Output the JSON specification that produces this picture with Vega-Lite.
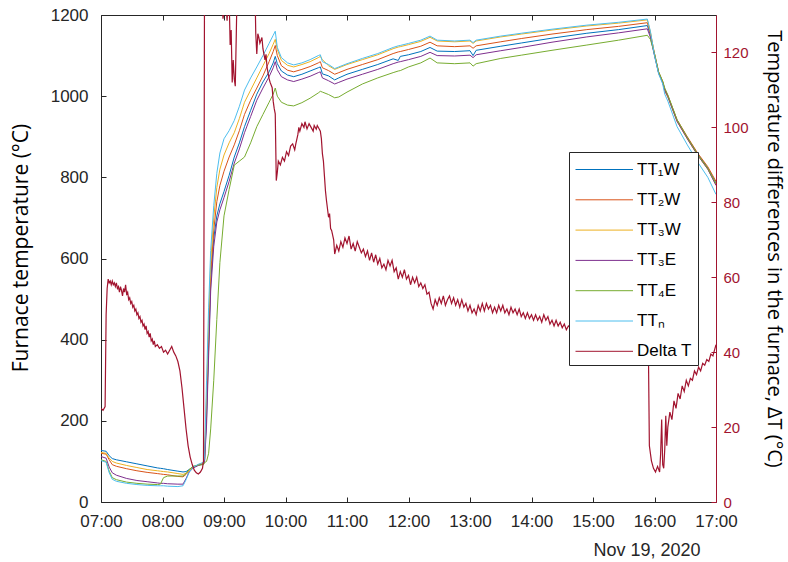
{
  "$schema": "https://vega.github.io/schema/vega-lite/v6.json",
  "width": 615,
  "height": 487,
  "autosize": {"type": "none"},
  "padding": {"left": 101, "top": 15, "right": 72, "bottom": 60},
  "background": "white",
  "config": {
    "view": {"stroke": null},
    "axis": {
      "grid": false,
      "labelFont": "Liberation Sans",
      "labelFontSize": 17,
      "labelColor": "#262626",
      "domainColor": "#262626",
      "tickColor": "#262626",
      "titleFont": "Open Sans",
      "titleFontWeight": "normal",
      "titleFontSize": 20,
      "titleColor": "#000000"
    }
  },
  "datasets": {
    "temps": [
      {"t":"2020-11-19T07:00","TT1W":127,"TT2W":120,"TT3W":122,"TT3E":112,"TT4E":104,"TTN":102},
      {"t":"2020-11-19T07:05","TT1W":125,"TT2W":118,"TT3W":120,"TT3E":108,"TT4E":100,"TTN":98},
      {"t":"2020-11-19T07:08","TT1W":114,"TT2W":104,"TT3W":108,"TT3E":86,"TT4E":76,"TTN":72},
      {"t":"2020-11-19T07:11","TT1W":107,"TT2W":92,"TT3W":100,"TT3E":72,"TT4E":60,"TTN":56},
      {"t":"2020-11-19T07:15","TT1W":104,"TT2W":88,"TT3W":96,"TT3E":66,"TT4E":55,"TTN":51},
      {"t":"2020-11-19T07:25","TT1W":99,"TT2W":82,"TT3W":90,"TT3E":58,"TT4E":49,"TTN":46},
      {"t":"2020-11-19T07:35","TT1W":94,"TT2W":77,"TT3W":85,"TT3E":53,"TT4E":46,"TTN":43},
      {"t":"2020-11-19T07:45","TT1W":89,"TT2W":73,"TT3W":80,"TT3E":50,"TT4E":44,"TTN":41},
      {"t":"2020-11-19T07:55","TT1W":84,"TT2W":70,"TT3W":77,"TT3E":47,"TT4E":43,"TTN":40},
      {"t":"2020-11-19T07:58","TT1W":83,"TT2W":69,"TT3W":76,"TT3E":46,"TT4E":44,"TTN":40},
      {"t":"2020-11-19T08:01","TT1W":82,"TT2W":68,"TT3W":75,"TT3E":46,"TT4E":60,"TTN":40},
      {"t":"2020-11-19T08:05","TT1W":80,"TT2W":67,"TT3W":74,"TT3E":45,"TT4E":64,"TTN":39},
      {"t":"2020-11-19T08:15","TT1W":76,"TT2W":63,"TT3W":70,"TT3E":44,"TT4E":64,"TTN":38},
      {"t":"2020-11-19T08:20","TT1W":74,"TT2W":62,"TT3W":68,"TT3E":44,"TT4E":64,"TTN":40},
      {"t":"2020-11-19T08:23","TT1W":75,"TT2W":68,"TT3W":71,"TT3E":58,"TT4E":70,"TTN":55},
      {"t":"2020-11-19T08:26","TT1W":80,"TT2W":76,"TT3W":78,"TT3E":74,"TT4E":80,"TTN":73},
      {"t":"2020-11-19T08:30","TT1W":87,"TT2W":85,"TT3W":86,"TT3E":84,"TT4E":88,"TTN":86},
      {"t":"2020-11-19T08:35","TT1W":91,"TT2W":91,"TT3W":92,"TT3E":90,"TT4E":91,"TTN":93},
      {"t":"2020-11-19T08:40","TT1W":94,"TT2W":95,"TT3W":96,"TT3E":94,"TT4E":92,"TTN":98},
      {"t":"2020-11-19T08:41","TT1W":100,"TT2W":103,"TT3W":106,"TT3E":98,"TT4E":97,"TTN":110},
      {"t":"2020-11-19T08:43","TT1W":210,"TT2W":230,"TT3W":260,"TT3E":190,"TT4E":100,"TTN":300},
      {"t":"2020-11-19T08:45","TT1W":380,"TT2W":400,"TT3W":440,"TT3E":360,"TT4E":120,"TTN":480},
      {"t":"2020-11-19T08:47","TT1W":540,"TT2W":560,"TT3W":590,"TT3E":520,"TT4E":180,"TTN":620},
      {"t":"2020-11-19T08:50","TT1W":650,"TT2W":670,"TT3W":700,"TT3E":630,"TT4E":300,"TTN":730},
      {"t":"2020-11-19T08:53","TT1W":705,"TT2W":740,"TT3W":775,"TT3E":690,"TT4E":450,"TTN":810},
      {"t":"2020-11-19T08:56","TT1W":735,"TT2W":780,"TT3W":820,"TT3E":720,"TT4E":590,"TTN":860},
      {"t":"2020-11-19T09:00","TT1W":765,"TT2W":815,"TT3W":855,"TT3E":750,"TT4E":705,"TTN":895},
      {"t":"2020-11-19T09:05","TT1W":805,"TT2W":850,"TT3W":885,"TT3E":790,"TT4E":770,"TTN":915},
      {"t":"2020-11-19T09:10","TT1W":850,"TT2W":880,"TT3W":910,"TT3E":835,"TT4E":830,"TTN":940},
      {"t":"2020-11-19T09:15","TT1W":885,"TT2W":915,"TT3W":945,"TT3E":870,"TT4E":840,"TTN":975},
      {"t":"2020-11-19T09:20","TT1W":925,"TT2W":955,"TT3W":985,"TT3E":910,"TT4E":850,"TTN":1015},
      {"t":"2020-11-19T09:26","TT1W":965,"TT2W":990,"TT3W":1015,"TT3E":950,"TT4E":885,"TTN":1045},
      {"t":"2020-11-19T09:32","TT1W":1005,"TT2W":1020,"TT3W":1045,"TT3E":990,"TT4E":925,"TTN":1072},
      {"t":"2020-11-19T09:38","TT1W":1035,"TT2W":1050,"TT3W":1075,"TT3E":1020,"TT4E":955,"TTN":1100},
      {"t":"2020-11-19T09:44","TT1W":1060,"TT2W":1085,"TT3W":1105,"TT3E":1048,"TT4E":985,"TTN":1130},
      {"t":"2020-11-19T09:48","TT1W":1082,"TT2W":1110,"TT3W":1128,"TT3E":1070,"TT4E":1005,"TTN":1150},
      {"t":"2020-11-19T09:50","TT1W":1098,"TT2W":1125,"TT3W":1140,"TT3E":1085,"TT4E":1020,"TTN":1160},
      {"t":"2020-11-19T09:52","TT1W":1080,"TT2W":1100,"TT3W":1115,"TT3E":1065,"TT4E":1000,"TTN":1120},
      {"t":"2020-11-19T09:56","TT1W":1062,"TT2W":1075,"TT3W":1088,"TT3E":1048,"TT4E":985,"TTN":1095},
      {"t":"2020-11-19T10:02","TT1W":1052,"TT2W":1064,"TT3W":1076,"TT3E":1040,"TT4E":978,"TTN":1082},
      {"t":"2020-11-19T10:08","TT1W":1048,"TT2W":1060,"TT3W":1072,"TT3E":1036,"TT4E":976,"TTN":1077},
      {"t":"2020-11-19T10:16","TT1W":1054,"TT2W":1066,"TT3W":1078,"TT3E":1042,"TT4E":984,"TTN":1082},
      {"t":"2020-11-19T10:24","TT1W":1062,"TT2W":1073,"TT3W":1085,"TT3E":1049,"TT4E":995,"TTN":1090},
      {"t":"2020-11-19T10:32","TT1W":1070,"TT2W":1082,"TT3W":1095,"TT3E":1058,"TT4E":1008,"TTN":1100},
      {"t":"2020-11-19T10:34","TT1W":1072,"TT2W":1085,"TT3W":1098,"TT3E":1060,"TT4E":1012,"TTN":1102},
      {"t":"2020-11-19T10:36","TT1W":1055,"TT2W":1070,"TT3W":1090,"TT3E":1045,"TT4E":1010,"TTN":1085},
      {"t":"2020-11-19T10:42","TT1W":1050,"TT2W":1063,"TT3W":1075,"TT3E":1038,"TT4E":1004,"TTN":1078},
      {"t":"2020-11-19T10:48","TT1W":1040,"TT2W":1054,"TT3W":1066,"TT3E":1030,"TT4E":996,"TTN":1068},
      {"t":"2020-11-19T10:52","TT1W":1045,"TT2W":1058,"TT3W":1070,"TT3E":1034,"TT4E":998,"TTN":1072},
      {"t":"2020-11-19T11:00","TT1W":1054,"TT2W":1066,"TT3W":1078,"TT3E":1042,"TT4E":1010,"TTN":1080},
      {"t":"2020-11-19T11:15","TT1W":1066,"TT2W":1078,"TT3W":1090,"TT3E":1054,"TT4E":1030,"TTN":1093},
      {"t":"2020-11-19T11:30","TT1W":1078,"TT2W":1090,"TT3W":1102,"TT3E":1066,"TT4E":1045,"TTN":1105},
      {"t":"2020-11-19T11:45","TT1W":1092,"TT2W":1105,"TT3W":1117,"TT3E":1080,"TT4E":1058,"TTN":1120},
      {"t":"2020-11-19T11:50","TT1W":1088,"TT2W":1109,"TT3W":1121,"TT3E":1084,"TT4E":1062,"TTN":1124},
      {"t":"2020-11-19T11:52","TT1W":1098,"TT2W":1110,"TT3W":1122,"TT3E":1085,"TT4E":1063,"TTN":1125},
      {"t":"2020-11-19T12:00","TT1W":1102,"TT2W":1115,"TT3W":1127,"TT3E":1090,"TT4E":1072,"TTN":1130},
      {"t":"2020-11-19T12:12","TT1W":1110,"TT2W":1123,"TT3W":1135,"TT3E":1098,"TT4E":1082,"TTN":1138},
      {"t":"2020-11-19T12:21","TT1W":1120,"TT2W":1133,"TT3W":1145,"TT3E":1108,"TT4E":1094,"TTN":1148},
      {"t":"2020-11-19T12:28","TT1W":1111,"TT2W":1124,"TT3W":1136,"TT3E":1100,"TT4E":1082,"TTN":1138},
      {"t":"2020-11-19T12:45","TT1W":1110,"TT2W":1122,"TT3W":1134,"TT3E":1099,"TT4E":1080,"TTN":1136},
      {"t":"2020-11-19T13:00","TT1W":1112,"TT2W":1124,"TT3W":1136,"TT3E":1101,"TT4E":1082,"TTN":1138},
      {"t":"2020-11-19T13:03","TT1W":1100,"TT2W":1118,"TT3W":1130,"TT3E":1095,"TT4E":1074,"TTN":1132},
      {"t":"2020-11-19T13:06","TT1W":1113,"TT2W":1124,"TT3W":1136,"TT3E":1102,"TT4E":1080,"TTN":1138},
      {"t":"2020-11-19T13:30","TT1W":1123,"TT2W":1134,"TT3W":1146,"TT3E":1112,"TT4E":1093,"TTN":1148},
      {"t":"2020-11-19T13:50","TT1W":1131,"TT2W":1142,"TT3W":1153,"TT3E":1120,"TT4E":1101,"TTN":1155},
      {"t":"2020-11-19T14:20","TT1W":1143,"TT2W":1153,"TT3W":1163,"TT3E":1133,"TT4E":1113,"TTN":1165},
      {"t":"2020-11-19T14:54","TT1W":1155,"TT2W":1164,"TT3W":1173,"TT3E":1146,"TT4E":1126,"TTN":1175},
      {"t":"2020-11-19T15:25","TT1W":1164,"TT2W":1172,"TT3W":1180,"TT3E":1156,"TT4E":1138,"TTN":1182},
      {"t":"2020-11-19T15:53","TT1W":1174,"TT2W":1181,"TT3W":1188,"TT3E":1166,"TT4E":1150,"TTN":1190},
      {"t":"2020-11-19T15:56","TT1W":1150,"TT2W":1154,"TT3W":1158,"TT3E":1145,"TT4E":1140,"TTN":1160},
      {"t":"2020-11-19T16:00","TT1W":1102,"TT2W":1105,"TT3W":1103,"TT3E":1100,"TT4E":1105,"TTN":1100},
      {"t":"2020-11-19T16:04","TT1W":1058,"TT2W":1060,"TT3W":1058,"TT3E":1057,"TT4E":1060,"TTN":1055},
      {"t":"2020-11-19T16:08","TT1W":1034,"TT2W":1036,"TT3W":1035,"TT3E":1033,"TT4E":1037,"TTN":1030},
      {"t":"2020-11-19T16:10","TT1W":1015,"TT2W":1018,"TT3W":1012,"TT3E":1014,"TT4E":1020,"TTN":1005},
      {"t":"2020-11-19T16:13","TT1W":1000,"TT2W":1002,"TT3W":998,"TT3E":999,"TT4E":1003,"TTN":988},
      {"t":"2020-11-19T16:22","TT1W":940,"TT2W":942,"TT3W":938,"TT3E":938,"TT4E":942,"TTN":925},
      {"t":"2020-11-19T16:32","TT1W":898,"TT2W":900,"TT3W":895,"TT3E":895,"TT4E":898,"TTN":880},
      {"t":"2020-11-19T16:42","TT1W":858,"TT2W":860,"TT3W":855,"TT3E":855,"TT4E":857,"TTN":838},
      {"t":"2020-11-19T16:52","TT1W":823,"TT2W":826,"TT3W":820,"TT3E":820,"TT4E":822,"TTN":800},
      {"t":"2020-11-19T17:00","TT1W":786,"TT2W":790,"TT3W":782,"TT3E":780,"TT4E":784,"TTN":758}
    ],
    "delta": [
      {"t":"2020-11-19T07:00","DeltaT":25},{"t":"2020-11-19T07:02","DeltaT":24.5},{"t":"2020-11-19T07:04","DeltaT":25.5},{"t":"2020-11-19T07:05","DeltaT":50},
      {"t":"2020-11-19T07:06","DeltaT":57},{"t":"2020-11-19T07:07","DeltaT":59.5},{"t":"2020-11-19T07:08","DeltaT":58.5},{"t":"2020-11-19T07:09","DeltaT":59},
      {"t":"2020-11-19T07:10","DeltaT":58},{"t":"2020-11-19T07:11","DeltaT":59},{"t":"2020-11-19T07:12","DeltaT":58},{"t":"2020-11-19T07:13","DeltaT":58.5},
      {"t":"2020-11-19T07:14","DeltaT":57.5},{"t":"2020-11-19T07:15","DeltaT":58.5},{"t":"2020-11-19T07:16","DeltaT":57},{"t":"2020-11-19T07:17","DeltaT":57.5},
      {"t":"2020-11-19T07:18","DeltaT":56},{"t":"2020-11-19T07:19","DeltaT":57.5},{"t":"2020-11-19T07:20","DeltaT":56.5},{"t":"2020-11-19T07:21","DeltaT":55},
      {"t":"2020-11-19T07:22","DeltaT":57},{"t":"2020-11-19T07:23","DeltaT":56},{"t":"2020-11-19T07:24","DeltaT":58},{"t":"2020-11-19T07:25","DeltaT":55.5},
      {"t":"2020-11-19T07:26","DeltaT":56},{"t":"2020-11-19T07:27","DeltaT":54},{"t":"2020-11-19T07:28","DeltaT":54.5},{"t":"2020-11-19T07:29","DeltaT":53},
      {"t":"2020-11-19T07:30","DeltaT":53.5},{"t":"2020-11-19T07:31","DeltaT":52},{"t":"2020-11-19T07:32","DeltaT":52.5},{"t":"2020-11-19T07:33","DeltaT":51},
      {"t":"2020-11-19T07:34","DeltaT":51.5},{"t":"2020-11-19T07:35","DeltaT":50},{"t":"2020-11-19T07:36","DeltaT":50.5},{"t":"2020-11-19T07:37","DeltaT":49},
      {"t":"2020-11-19T07:38","DeltaT":49.5},{"t":"2020-11-19T07:39","DeltaT":48},{"t":"2020-11-19T07:40","DeltaT":48.5},{"t":"2020-11-19T07:41","DeltaT":47},
      {"t":"2020-11-19T07:42","DeltaT":47.5},{"t":"2020-11-19T07:43","DeltaT":46},{"t":"2020-11-19T07:44","DeltaT":47},{"t":"2020-11-19T07:45","DeltaT":45},
      {"t":"2020-11-19T07:46","DeltaT":45.5},{"t":"2020-11-19T07:47","DeltaT":44},{"t":"2020-11-19T07:48","DeltaT":45},{"t":"2020-11-19T07:49","DeltaT":43},
      {"t":"2020-11-19T07:50","DeltaT":43.5},{"t":"2020-11-19T07:51","DeltaT":42},{"t":"2020-11-19T07:52","DeltaT":43},{"t":"2020-11-19T07:53","DeltaT":41.5},
      {"t":"2020-11-19T07:55","DeltaT":42},{"t":"2020-11-19T07:57","DeltaT":41},{"t":"2020-11-19T07:59","DeltaT":41.5},{"t":"2020-11-19T08:01","DeltaT":40},
      {"t":"2020-11-19T08:03","DeltaT":40.5},{"t":"2020-11-19T08:05","DeltaT":39.5},{"t":"2020-11-19T08:07","DeltaT":40.5},{"t":"2020-11-19T08:09","DeltaT":41.5},
      {"t":"2020-11-19T08:11","DeltaT":40},{"t":"2020-11-19T08:13","DeltaT":39},{"t":"2020-11-19T08:15","DeltaT":37.5},{"t":"2020-11-19T08:17","DeltaT":35},
      {"t":"2020-11-19T08:19","DeltaT":30.5},{"t":"2020-11-19T08:21","DeltaT":25},{"t":"2020-11-19T08:23","DeltaT":19.5},{"t":"2020-11-19T08:25","DeltaT":15},
      {"t":"2020-11-19T08:27","DeltaT":12},{"t":"2020-11-19T08:29","DeltaT":10},{"t":"2020-11-19T08:31","DeltaT":8.5},{"t":"2020-11-19T08:33","DeltaT":7.8},
      {"t":"2020-11-19T08:35","DeltaT":7.5},{"t":"2020-11-19T08:37","DeltaT":8},{"t":"2020-11-19T08:39","DeltaT":9},{"t":"2020-11-19T08:40","DeltaT":11},
      {"t":"2020-11-19T08:41","DeltaT":140},{"t":"2020-11-19T08:50","DeltaT":150},{"t":"2020-11-19T08:58","DeltaT":140},{"t":"2020-11-19T08:59","DeltaT":129},
      {"t":"2020-11-19T09:00","DeltaT":131},{"t":"2020-11-19T09:02","DeltaT":133},{"t":"2020-11-19T09:03","DeltaT":128.5},{"t":"2020-11-19T09:04","DeltaT":134},
      {"t":"2020-11-19T09:05","DeltaT":135},{"t":"2020-11-19T09:06","DeltaT":122},{"t":"2020-11-19T09:07","DeltaT":126},{"t":"2020-11-19T09:08","DeltaT":112},
      {"t":"2020-11-19T09:09","DeltaT":118},{"t":"2020-11-19T09:10","DeltaT":113},{"t":"2020-11-19T09:11","DeltaT":111},{"t":"2020-11-19T09:12","DeltaT":125},
      {"t":"2020-11-19T09:13","DeltaT":140},{"t":"2020-11-19T09:20","DeltaT":150},{"t":"2020-11-19T09:30","DeltaT":140},{"t":"2020-11-19T09:31","DeltaT":125},
      {"t":"2020-11-19T09:32","DeltaT":119.6},{"t":"2020-11-19T09:33","DeltaT":125},{"t":"2020-11-19T09:34","DeltaT":124},{"t":"2020-11-19T09:35","DeltaT":122.5},
      {"t":"2020-11-19T09:37","DeltaT":124},{"t":"2020-11-19T09:38","DeltaT":121},{"t":"2020-11-19T09:40","DeltaT":118},{"t":"2020-11-19T09:41","DeltaT":119.5},
      {"t":"2020-11-19T09:42","DeltaT":116},{"t":"2020-11-19T09:44","DeltaT":113},{"t":"2020-11-19T09:45","DeltaT":112},{"t":"2020-11-19T09:47","DeltaT":110.6},
      {"t":"2020-11-19T09:48","DeltaT":107},{"t":"2020-11-19T09:49","DeltaT":105},{"t":"2020-11-19T09:50","DeltaT":103.6},{"t":"2020-11-19T09:51","DeltaT":85.8},
      {"t":"2020-11-19T09:52","DeltaT":88},{"t":"2020-11-19T09:53","DeltaT":91},{"t":"2020-11-19T09:55","DeltaT":90},{"t":"2020-11-19T09:57","DeltaT":92},
      {"t":"2020-11-19T09:59","DeltaT":91},{"t":"2020-11-19T10:01","DeltaT":93.5},{"t":"2020-11-19T10:03","DeltaT":92.5},{"t":"2020-11-19T10:05","DeltaT":95},
      {"t":"2020-11-19T10:07","DeltaT":95.6},{"t":"2020-11-19T10:09","DeltaT":94},{"t":"2020-11-19T10:10","DeltaT":95.5},{"t":"2020-11-19T10:12","DeltaT":98},
      {"t":"2020-11-19T10:13","DeltaT":100},{"t":"2020-11-19T10:14","DeltaT":99},{"t":"2020-11-19T10:16","DeltaT":101},{"t":"2020-11-19T10:18","DeltaT":100},
      {"t":"2020-11-19T10:19","DeltaT":101.5},{"t":"2020-11-19T10:21","DeltaT":99.6},{"t":"2020-11-19T10:23","DeltaT":101},{"t":"2020-11-19T10:25","DeltaT":100},
      {"t":"2020-11-19T10:27","DeltaT":99},{"t":"2020-11-19T10:28","DeltaT":100.5},{"t":"2020-11-19T10:30","DeltaT":99.5},{"t":"2020-11-19T10:31","DeltaT":100.5},
      {"t":"2020-11-19T10:33","DeltaT":99.5},{"t":"2020-11-19T10:34","DeltaT":99},{"t":"2020-11-19T10:35","DeltaT":97},{"t":"2020-11-19T10:36","DeltaT":93},
      {"t":"2020-11-19T10:37","DeltaT":91},{"t":"2020-11-19T10:38","DeltaT":87},{"t":"2020-11-19T10:39","DeltaT":83},{"t":"2020-11-19T10:40","DeltaT":80.4},
      {"t":"2020-11-19T10:42","DeltaT":76},{"t":"2020-11-19T10:43","DeltaT":77},{"t":"2020-11-19T10:44","DeltaT":73},{"t":"2020-11-19T10:45","DeltaT":72.5},
      {"t":"2020-11-19T10:47","DeltaT":70},{"t":"2020-11-19T10:48","DeltaT":66.2},{"t":"2020-11-19T10:50","DeltaT":68.5},{"t":"2020-11-19T10:52","DeltaT":67},
      {"t":"2020-11-19T10:54","DeltaT":69.5},{"t":"2020-11-19T10:56","DeltaT":68},{"t":"2020-11-19T10:58","DeltaT":70.5},{"t":"2020-11-19T11:00","DeltaT":69},
      {"t":"2020-11-19T11:02","DeltaT":71},{"t":"2020-11-19T11:04","DeltaT":67.5},{"t":"2020-11-19T11:06","DeltaT":69},{"t":"2020-11-19T11:08","DeltaT":67},
      {"t":"2020-11-19T11:10","DeltaT":69.5},{"t":"2020-11-19T11:12","DeltaT":68},{"t":"2020-11-19T11:14","DeltaT":66.5},{"t":"2020-11-19T11:16","DeltaT":67.5},
      {"t":"2020-11-19T11:18","DeltaT":65.5},{"t":"2020-11-19T11:20","DeltaT":67},{"t":"2020-11-19T11:22","DeltaT":64.5},{"t":"2020-11-19T11:24","DeltaT":66.5},
      {"t":"2020-11-19T11:26","DeltaT":64},{"t":"2020-11-19T11:28","DeltaT":66},{"t":"2020-11-19T11:30","DeltaT":63.5},{"t":"2020-11-19T11:32","DeltaT":65},
      {"t":"2020-11-19T11:34","DeltaT":62.5},{"t":"2020-11-19T11:36","DeltaT":63.5},{"t":"2020-11-19T11:38","DeltaT":62},{"t":"2020-11-19T11:40","DeltaT":64.5},
      {"t":"2020-11-19T11:42","DeltaT":63},{"t":"2020-11-19T11:44","DeltaT":64.5},{"t":"2020-11-19T11:46","DeltaT":61.5},{"t":"2020-11-19T11:48","DeltaT":62.5},
      {"t":"2020-11-19T11:50","DeltaT":59.5},{"t":"2020-11-19T11:52","DeltaT":61.5},{"t":"2020-11-19T11:54","DeltaT":60},{"t":"2020-11-19T11:56","DeltaT":62},
      {"t":"2020-11-19T11:58","DeltaT":59.5},{"t":"2020-11-19T12:00","DeltaT":60.5},{"t":"2020-11-19T12:02","DeltaT":58},{"t":"2020-11-19T12:04","DeltaT":60},
      {"t":"2020-11-19T12:06","DeltaT":58.5},{"t":"2020-11-19T12:08","DeltaT":60},{"t":"2020-11-19T12:10","DeltaT":57.5},{"t":"2020-11-19T12:12","DeltaT":58.5},
      {"t":"2020-11-19T12:14","DeltaT":57},{"t":"2020-11-19T12:16","DeltaT":58},{"t":"2020-11-19T12:18","DeltaT":55.5},{"t":"2020-11-19T12:20","DeltaT":56},
      {"t":"2020-11-19T12:22","DeltaT":53},{"t":"2020-11-19T12:24","DeltaT":51.5},{"t":"2020-11-19T12:26","DeltaT":54},{"t":"2020-11-19T12:28","DeltaT":52.5},
      {"t":"2020-11-19T12:30","DeltaT":54.5},{"t":"2020-11-19T12:32","DeltaT":53},{"t":"2020-11-19T12:34","DeltaT":55},{"t":"2020-11-19T12:36","DeltaT":52.5},
      {"t":"2020-11-19T12:38","DeltaT":54},{"t":"2020-11-19T12:40","DeltaT":55},{"t":"2020-11-19T12:42","DeltaT":53},{"t":"2020-11-19T12:44","DeltaT":54.5},
      {"t":"2020-11-19T12:46","DeltaT":52.5},{"t":"2020-11-19T12:48","DeltaT":54},{"t":"2020-11-19T12:50","DeltaT":52},{"t":"2020-11-19T12:52","DeltaT":54},
      {"t":"2020-11-19T12:54","DeltaT":52},{"t":"2020-11-19T12:56","DeltaT":53},{"t":"2020-11-19T12:58","DeltaT":51},{"t":"2020-11-19T13:00","DeltaT":52.5},
      {"t":"2020-11-19T13:02","DeltaT":50.5},{"t":"2020-11-19T13:04","DeltaT":51.5},{"t":"2020-11-19T13:06","DeltaT":50},{"t":"2020-11-19T13:08","DeltaT":52.5},
      {"t":"2020-11-19T13:10","DeltaT":51},{"t":"2020-11-19T13:12","DeltaT":53},{"t":"2020-11-19T13:14","DeltaT":51},{"t":"2020-11-19T13:16","DeltaT":53},
      {"t":"2020-11-19T13:18","DeltaT":51.5},{"t":"2020-11-19T13:20","DeltaT":52.5},{"t":"2020-11-19T13:22","DeltaT":50.5},{"t":"2020-11-19T13:24","DeltaT":52},
      {"t":"2020-11-19T13:26","DeltaT":50.5},{"t":"2020-11-19T13:28","DeltaT":52.5},{"t":"2020-11-19T13:30","DeltaT":51},{"t":"2020-11-19T13:32","DeltaT":52.5},
      {"t":"2020-11-19T13:34","DeltaT":50.5},{"t":"2020-11-19T13:36","DeltaT":51.5},{"t":"2020-11-19T13:38","DeltaT":50},{"t":"2020-11-19T13:40","DeltaT":52},
      {"t":"2020-11-19T13:42","DeltaT":50.5},{"t":"2020-11-19T13:44","DeltaT":51.5},{"t":"2020-11-19T13:46","DeltaT":50},{"t":"2020-11-19T13:48","DeltaT":51.5},
      {"t":"2020-11-19T13:50","DeltaT":49.5},{"t":"2020-11-19T13:52","DeltaT":50.5},{"t":"2020-11-19T13:54","DeltaT":49},{"t":"2020-11-19T13:56","DeltaT":50.5},
      {"t":"2020-11-19T13:58","DeltaT":49},{"t":"2020-11-19T14:00","DeltaT":50},{"t":"2020-11-19T14:02","DeltaT":48.5},{"t":"2020-11-19T14:04","DeltaT":50},
      {"t":"2020-11-19T14:06","DeltaT":48.5},{"t":"2020-11-19T14:08","DeltaT":49.5},{"t":"2020-11-19T14:10","DeltaT":48},{"t":"2020-11-19T14:12","DeltaT":50},
      {"t":"2020-11-19T14:14","DeltaT":48.5},{"t":"2020-11-19T14:16","DeltaT":49.5},{"t":"2020-11-19T14:18","DeltaT":47.5},{"t":"2020-11-19T14:20","DeltaT":48.5},
      {"t":"2020-11-19T14:22","DeltaT":47},{"t":"2020-11-19T14:24","DeltaT":48.5},{"t":"2020-11-19T14:26","DeltaT":47},{"t":"2020-11-19T14:28","DeltaT":48},
      {"t":"2020-11-19T14:30","DeltaT":46.5},{"t":"2020-11-19T14:32","DeltaT":47.5},{"t":"2020-11-19T14:34","DeltaT":46},{"t":"2020-11-19T14:36","DeltaT":47},
      {"t":"2020-11-19T14:40","DeltaT":46},{"t":"2020-11-19T14:50","DeltaT":46.5},{"t":"2020-11-19T15:00","DeltaT":45},{"t":"2020-11-19T15:10","DeltaT":45.5},
      {"t":"2020-11-19T15:20","DeltaT":44.5},{"t":"2020-11-19T15:30","DeltaT":44},{"t":"2020-11-19T15:40","DeltaT":43.5},{"t":"2020-11-19T15:50","DeltaT":42.5},
      {"t":"2020-11-19T15:54","DeltaT":42},{"t":"2020-11-19T15:55","DeltaT":15},{"t":"2020-11-19T15:57","DeltaT":11},{"t":"2020-11-19T15:59","DeltaT":9},
      {"t":"2020-11-19T16:01","DeltaT":8},{"t":"2020-11-19T16:03","DeltaT":9.5},{"t":"2020-11-19T16:05","DeltaT":8},{"t":"2020-11-19T16:06","DeltaT":13},
      {"t":"2020-11-19T16:07","DeltaT":22},{"t":"2020-11-19T16:08","DeltaT":10},{"t":"2020-11-19T16:09","DeltaT":9},{"t":"2020-11-19T16:10","DeltaT":14},
      {"t":"2020-11-19T16:11","DeltaT":23},{"t":"2020-11-19T16:12","DeltaT":15},{"t":"2020-11-19T16:13","DeltaT":20},{"t":"2020-11-19T16:15","DeltaT":24},
      {"t":"2020-11-19T16:17","DeltaT":22},{"t":"2020-11-19T16:19","DeltaT":27},{"t":"2020-11-19T16:21","DeltaT":25},{"t":"2020-11-19T16:23","DeltaT":29},
      {"t":"2020-11-19T16:25","DeltaT":27.5},{"t":"2020-11-19T16:27","DeltaT":31},{"t":"2020-11-19T16:29","DeltaT":29.5},{"t":"2020-11-19T16:31","DeltaT":32.5},
      {"t":"2020-11-19T16:33","DeltaT":31},{"t":"2020-11-19T16:35","DeltaT":33},{"t":"2020-11-19T16:37","DeltaT":32.5},{"t":"2020-11-19T16:39","DeltaT":35},
      {"t":"2020-11-19T16:41","DeltaT":34},{"t":"2020-11-19T16:43","DeltaT":36},{"t":"2020-11-19T16:45","DeltaT":35},{"t":"2020-11-19T16:47","DeltaT":37},
      {"t":"2020-11-19T16:49","DeltaT":36.5},{"t":"2020-11-19T16:51","DeltaT":38},{"t":"2020-11-19T16:53","DeltaT":37.5},{"t":"2020-11-19T16:55","DeltaT":39.5},
      {"t":"2020-11-19T16:57","DeltaT":39},{"t":"2020-11-19T16:59","DeltaT":41},{"t":"2020-11-19T17:00","DeltaT":42}
    ]
  },
  "layer": [
    {
      "data": {"name": "temps"},
      "transform": [{"fold": ["TT1W", "TT2W", "TT3W", "TT3E", "TT4E", "TTN"], "as": ["key", "val"]}],
      "mark": {"type": "line", "strokeWidth": 1, "clip": true},
      "encoding": {
        "x": {
          "field": "t", "type": "temporal",
          "scale": {"domain": [{"year": 2020, "month": 11, "date": 19, "hours": 7}, {"year": 2020, "month": 11, "date": 19, "hours": 17}]},
          "axis": {
            "orient": "bottom", "format": "%H:%M",
            "values": [
              {"year": 2020, "month": 11, "date": 19, "hours": 7}, {"year": 2020, "month": 11, "date": 19, "hours": 8},
              {"year": 2020, "month": 11, "date": 19, "hours": 9}, {"year": 2020, "month": 11, "date": 19, "hours": 10},
              {"year": 2020, "month": 11, "date": 19, "hours": 11}, {"year": 2020, "month": 11, "date": 19, "hours": 12},
              {"year": 2020, "month": 11, "date": 19, "hours": 13}, {"year": 2020, "month": 11, "date": 19, "hours": 14},
              {"year": 2020, "month": 11, "date": 19, "hours": 15}, {"year": 2020, "month": 11, "date": 19, "hours": 16},
              {"year": 2020, "month": 11, "date": 19, "hours": 17}
            ],
            "tickSize": -5, "labelPadding": 16, "labelFlush": false,
            "title": "Nov 19, 2020", "titleFont": "Liberation Sans", "titleFontSize": 18, "titleColor": "#262626",
            "titleAnchor": "end", "titleAlign": "right", "titleX": 599, "titleY": 53, "titleBaseline": "alphabetic"
          }
        },
        "y": {
          "field": "val", "type": "quantitative",
          "scale": {"domain": [0, 1200], "nice": false},
          "axis": {"orient": "left", "values": [0, 200, 400, 600, 800, 1000, 1200], "format": "d", "tickSize": -5, "labelPadding": 18,
                   "title": "Furnace temperature (°C)", "titleFontSize": 21,
                   "titleX": -80, "titleY": 232.5, "titleBaseline": "middle", "titleAlign": "center", "titleAngle": -90}
        },
        "color": {
          "field": "key", "type": "nominal",
          "scale": {"domain": ["TT1W", "TT2W", "TT3W", "TT3E", "TT4E", "TTN", "DeltaT"],
                    "range": ["#0072BD", "#D95319", "#EDB120", "#7E2F8E", "#77AC30", "#4DBEEE", "#A2142F"]},
          "legend": {
            "orient": "none", "legendX": 468, "legendY": 137, "title": null,
            "symbolType": "M-2.5,0H2.5", "symbolSize": 529, "symbolStrokeWidth": 1,
            "symbolOffset": 17.75, "labelOffset": 20.75, "padding": 5.5, "rowPadding": 10.3,
            "labelFont": "Liberation Sans", "labelFontSize": 17, "labelColor": "#000000",
            "strokeColor": "#262626", "fillColor": "#ffffff",
            "labelExpr": "datum.label == 'TT1W' ? 'TT₁W' : datum.label == 'TT2W' ? 'TT₂W' : datum.label == 'TT3W' ? 'TT₃W' : datum.label == 'TT3E' ? 'TT₃E' : datum.label == 'TT4E' ? 'TT₄E' : datum.label == 'TTN' ? 'TTₙ' : 'Delta T'"
          }
        }
      }
    },
    {
      "data": {"name": "delta"},
      "transform": [{"fold": ["DeltaT"], "as": ["key", "val"]}],
      "mark": {"type": "line", "strokeWidth": 1.2, "clip": true},
      "encoding": {
        "x": {
          "field": "t", "type": "temporal",
          "axis": {"orient": "top", "labels": false, "title": null, "tickSize": -5,
            "values": [
              {"year": 2020, "month": 11, "date": 19, "hours": 7}, {"year": 2020, "month": 11, "date": 19, "hours": 8},
              {"year": 2020, "month": 11, "date": 19, "hours": 9}, {"year": 2020, "month": 11, "date": 19, "hours": 10},
              {"year": 2020, "month": 11, "date": 19, "hours": 11}, {"year": 2020, "month": 11, "date": 19, "hours": 12},
              {"year": 2020, "month": 11, "date": 19, "hours": 13}, {"year": 2020, "month": 11, "date": 19, "hours": 14},
              {"year": 2020, "month": 11, "date": 19, "hours": 15}, {"year": 2020, "month": 11, "date": 19, "hours": 16},
              {"year": 2020, "month": 11, "date": 19, "hours": 17}
            ]}
        },
        "y": {
          "field": "val", "type": "quantitative",
          "scale": {"domain": [0, 130], "nice": false},
          "axis": {"orient": "right", "values": [0, 20, 40, 60, 80, 100, 120], "tickSize": -5, "labelPadding": 12,
                   "labelFontSize": 15, "labelColor": "#A2142F", "domainColor": "#A2142F", "tickColor": "#A2142F",
                   "title": "Temperature differences in the furnace, ΔT (°C)",
                   "titleX": 57, "titleY": 233.5, "titleBaseline": "middle", "titleAlign": "center", "titleAngle": 90}
        },
        "color": {"field": "key", "type": "nominal"}
      }
    }
  ],
  "resolve": {"scale": {"y": "independent"}, "axis": {"x": "independent", "y": "independent"}}
}
